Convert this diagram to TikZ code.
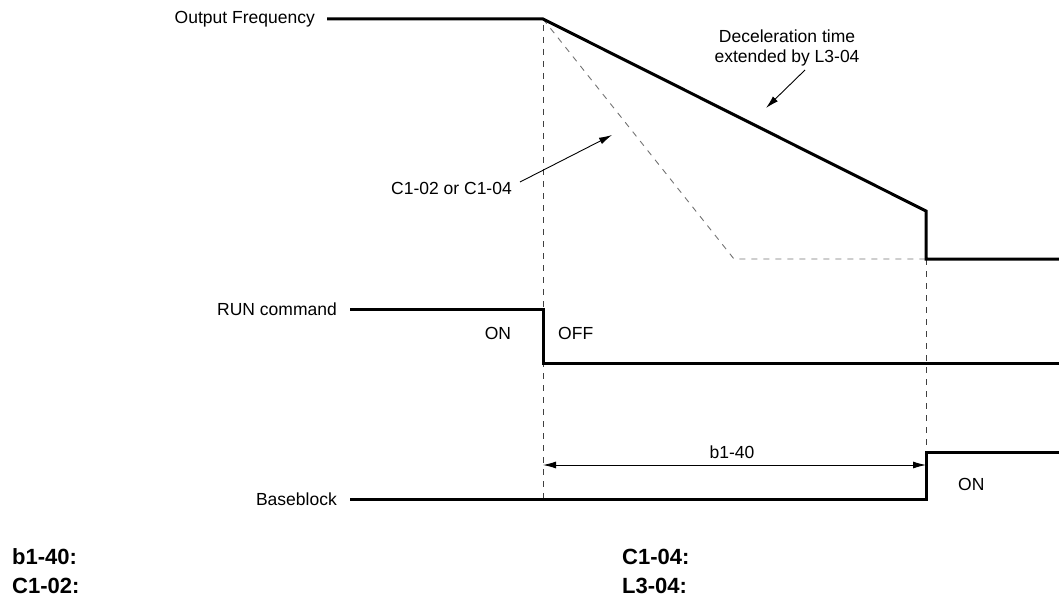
\documentclass[tikz,border=0pt]{standalone}
\usepackage{fontspec}
\setmainfont{Liberation Sans}
\usetikzlibrary{arrows.meta}
\begin{document}
\begin{tikzpicture}[x=1pt,y=-1pt,
  sig/.style={line width=3pt,line cap=butt,line join=miter},
  guide/.style={line width=0.9pt,draw=black!75,dash pattern=on 6pt off 6pt},
  lguide/.style={line width=0.9pt,draw=black!55,dash pattern=on 6pt off 6pt},
  lbl/.style={font=\fontsize{17.5}{20.5}\selectfont,inner sep=0pt},
  foot/.style={font=\fontsize{22}{24}\selectfont\bfseries,inner sep=0pt,anchor=base west},
  callout/.style={line width=0.9pt,-{Latex[length=13pt,width=7pt]}},
  dim/.style={line width=0.9pt,{Latex[length=13pt,width=7pt]}-{Latex[length=13pt,width=7pt]}}]
\useasboundingbox (0,0) rectangle (1059,596);
% coordinates
\coordinate (f0) at (327,19);
\coordinate (fk) at (543,19);
\coordinate (fd) at (926,211);
\coordinate (fl) at (926,259);
\coordinate (fe) at (1059,259);
\coordinate (dk) at (734,259);
\coordinate (r0) at (350,309);
\coordinate (rk) at (543,309);
\coordinate (rl) at (543,363);
\coordinate (re) at (1059,363);
\coordinate (b0) at (350,499);
\coordinate (bk) at (926,499);
\coordinate (bh) at (926,452);
\coordinate (be) at (1059,452);
\coordinate (g1top) at (543,25);
\coordinate (g1bot) at (543,499);
\coordinate (g2bot) at (926,455);
\coordinate (a1) at (543,465);
\coordinate (a2) at (926,465);
% guides
\draw[guide] (g1top) -- (g1bot);
\draw[guide] (fl) -- (g2bot);
\draw[lguide] (fk) -- (dk) -- (fl);
% signals
\draw[sig] (f0) -- (fk) -- (fd) -- (fl) -- (fe);
\draw[sig] (r0) -- (rk) -- (rl) -- (re);
\draw[sig] (b0) -- (bk) -- (bh) -- (be);
% labels
\node[lbl,anchor=east] (lof) at (315,19) {Output Frequency};
\node[lbl,anchor=east] (lrun) at (337,309) {RUN command};
\node[lbl,anchor=east] (lbb) at (337,499) {Baseblock};
\node[lbl] (lon1) at (498,333) {ON};
\node[lbl,anchor=west] (loff) at (558,333) {OFF};
\node[lbl,anchor=west] (lon2) at (958,484) {ON};
\node[lbl] (lb140) at (732,452) {b1-40};
\node[lbl,align=center] (ldec) at (787,48) {Deceleration time\\extended by L3-04};
\node[lbl,anchor=east] (lc1) at (512,188) {C1-02 or C1-04};
% callouts
\coordinate (c1s) at (520,182);
\coordinate (c1e) at (612,135);
\draw[callout] (c1s) -- (c1e);
\coordinate (d1s) at (805,70);
\coordinate (d1e) at (766,108);
\draw[callout] (d1s) -- (d1e);
\draw[dim] (a1) -- (a2);
% footer
\node[foot] (fb) at (12,564) {b1-40:};
\node[foot] (fc2) at (12,593) {C1-02:};
\node[foot] (fc4) at (622,564) {C1-04:};
\node[foot] (fl3) at (622,593) {L3-04:};
\end{tikzpicture}
\end{document}
